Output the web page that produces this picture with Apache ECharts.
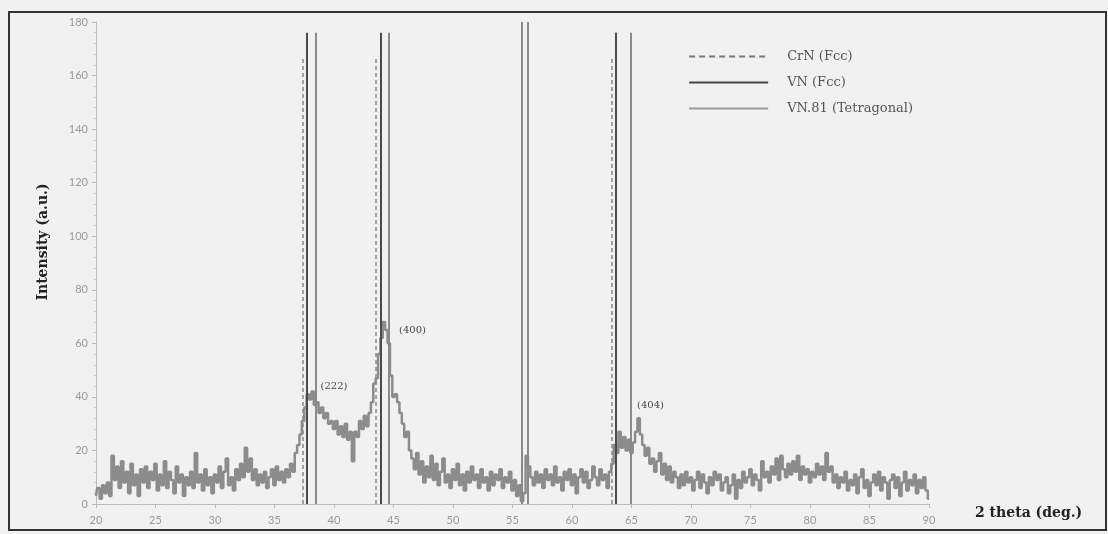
<!DOCTYPE html>
<html>
	<head>
		<meta charset="UTF-8">
		<title>XRD - CrN / VN</title>
		<script src="https://cdn.jsdelivr.net/npm/echarts@6/dist/echarts.min.js"></script>
		<style>
			html, body { margin: 0; padding: 0; background: #f1f1f1; }
			#main { width: 1108px; height: 534px; }
		</style>
	</head>
	<body>
		<div id="main"></div>
	</body>
<script>
    // scan grid: 2 theta from 20 to 90 deg, step 0.2
    var thetaStart = 20;
    var thetaStep = 0.2;
    // intensity (a.u.)
    var intensity = [
        3, 6, 2, 7, 4,   8, 3, 18, 9, 14,   6, 16, 8, 12, 4,   15, 7, 11, 3, 13,   8, 14, 6, 12, 9,
        15, 5, 11, 7, 16,   6, 12, 9, 4, 14,   8, 11, 3, 10, 7,   12, 6, 19, 8, 11,   5, 13, 7, 10, 4,
        11, 8, 14, 6, 12,   17, 7, 10, 5, 13,   9, 15, 10, 21, 12,   17, 9, 13, 7, 11,   8, 12, 6, 10, 13,
        7, 14, 9, 12, 8,   13, 10, 15, 12, 19,   22, 26, 31, 36, 41,   39, 42, 37, 38, 34,   36, 32, 34, 30, 31,
        28, 31, 26, 29, 25,   30, 24, 27, 16, 27,   25, 31, 28, 33, 29,   34, 38, 45, 47, 56,   62, 68, 65, 60, 48,
        40, 41, 38, 34, 30,   25, 27, 20, 17, 13,   19, 11, 16, 8, 14,   10, 18, 9, 15, 7,   12, 17, 8, 11, 6,
        13, 9, 15, 7, 11,   5, 12, 8, 14, 9,   11, 6, 13, 8, 10,   5, 12, 7, 11, 9,   13, 6, 10, 8, 12,
        5, 9, 3, 7, 1,   4, 18, 14, 10, 7,   12, 8, 11, 6, 13,   9, 11, 7, 14, 8,   10, 5, 12, 9, 13,
        7, 11, 4, 10, 13,   8, 12, 6, 9, 14,   10, 7, 13, 9, 11,   6, 12, 15, 22, 19,   27, 21, 25, 20, 24,
        19, 23, 27, 32, 26,   22, 18, 21, 15, 17,   12, 16, 19, 11, 15,   9, 14, 8, 12, 10,   6, 11, 7, 12, 8,
        10, 5, 9, 12, 6,   11, 8, 4, 10, 7,   12, 9, 11, 5, 8,   10, 4, 7, 11, 2,   9, 6, 12, 8, 10,
        13, 7, 11, 9, 5,   16, 10, 12, 8, 14,   11, 17, 9, 18, 13,   10, 15, 11, 16, 12,   18, 9, 14, 11, 13,
        8, 12, 10, 15, 11,   14, 9, 19, 12, 14,   8, 11, 6, 10, 8,   12, 5, 9, 7, 11,   4, 10, 13, 6, 9,
        3, 8, 11, 7, 12,   5, 10, 8, 2, 9,   11, 6, 10, 3, 8,   12, 5, 9, 7, 11,   4, 9, 6, 10, 5,
        2
    ];
    // reference peak positions (2 theta)
    var crnPeaks = [37.4, 43.5, 63.3];
    var vnPeaks = [37.7, 43.9, 63.7];
    var vn81Peaks = [38.5, 44.6, 64.9];
    var extraPeaks = [55.8, 56.3];
    // peak labels
    var peakLabels = ['(222)', '(400)', '(404)'];
    var peakLabelPos = [[40.0, 44], [46.6, 65], [66.6, 37]];

    var xTicks = [20, 90, 5];
    var yTicks = [0, 180, 20];

    var seriesData = intensity.map(function (v, i) {
        return [+(thetaStart + i * thetaStep).toFixed(1), v];
    });

    function vLines(list, top) {
        return list.map(function (p) {
            return [{ coord: [p, 0] }, { coord: [p, top] }];
        });
    }

    var serif = '"DejaVu Serif", "Liberation Serif", serif';

    var option = {
        backgroundColor: '#f1f1f1',
        animation: false,
        grid: { left: 96, right: 179, top: 22, bottom: 30 },
        legend: {
            right: 190,
            top: 45,
            orient: 'vertical',
            align: 'left',
            itemWidth: 79,
            itemHeight: 14,
            itemGap: 13,
            itemStyle: { opacity: 0 },
            textStyle: { fontFamily: serif, fontSize: 13, color: '#555', padding: [0, 0, 0, 14] },
            data: ['CrN (Fcc)', 'VN (Fcc)', 'VN.81 (Tetragonal)']
        },
        xAxis: {
            type: 'value',
            min: xTicks[0],
            max: xTicks[1],
            interval: xTicks[2],
            name: '2 theta (deg.)',
            nameLocation: 'end',
            nameGap: 46,
            nameTextStyle: { fontFamily: serif, fontSize: 14, fontWeight: 'bold', color: '#222', verticalAlign: 'top', padding: [2, 0, 0, 0] },
            axisLine: { lineStyle: { color: '#bbb', width: 1 } },
            axisTick: { show: true, length: 4, lineStyle: { color: '#bbb' } },
            minorTick: { show: true, splitNumber: 5, length: 2, lineStyle: { color: '#ccc' } },
            axisLabel: { color: '#999', fontSize: 11, fontFamily: 'Lato', margin: 11 },
            splitLine: { show: false }
        },
        yAxis: {
            type: 'value',
            min: yTicks[0],
            max: yTicks[1],
            interval: yTicks[2],
            axisLine: { show: true, lineStyle: { color: '#bbb', width: 1 } },
            axisTick: { show: true, length: 4, lineStyle: { color: '#bbb' } },
            minorTick: { show: true, splitNumber: 5, length: 2, lineStyle: { color: '#ccc' } },
            axisLabel: { color: '#999', fontSize: 11, fontFamily: 'Lato', margin: 8 },
            splitLine: { show: false }
        },
        graphic: [
            {
                type: 'rect',
                shape: { x: 9, y: 12, width: 1097, height: 518 },
                style: { fill: 'none', stroke: '#333', lineWidth: 2 },
                silent: true
            },
            {
                type: 'text',
                x: 43,
                y: 242,
                rotation: Math.PI / 2,
                style: {
                    text: 'Intensity (a.u.)',
                    font: 'bold 14px ' + serif,
                    fill: '#222',
                    align: 'center',
                    verticalAlign: 'middle'
                }
            }
        ],
        series: [
            {
                name: 'Intensity',
                type: 'line',
                step: 'middle',
                symbol: 'none',
                data: seriesData,
                lineStyle: { color: '#8c8c8c', width: 2.5 },
                z: 3,
                markPoint: {
                    symbol: 'circle',
                    symbolSize: 0,
                    label: { show: true, fontFamily: serif, fontSize: 10, color: '#444', formatter: function (p) { return p.name; } },
                    data: peakLabels.map(function (t, i) {
                        return { name: t, coord: peakLabelPos[i] };
                    })
                }
            },
            {
                name: 'CrN (Fcc)',
                type: 'line',
                data: [],
                symbol: 'none',
                lineStyle: { color: '#777', width: 1.5, type: [6, 4] },
                itemStyle: { color: '#777' },
                markLine: {
                    silent: true,
                    symbol: 'none',
                    label: { show: false },
                    lineStyle: { color: '#888', width: 1.5, type: [4, 3] },
                    data: vLines(crnPeaks, 167)
                }
            },
            {
                name: 'VN (Fcc)',
                type: 'line',
                data: [],
                symbol: 'none',
                lineStyle: { color: '#444', width: 2 },
                itemStyle: { color: '#444' },
                markLine: {
                    silent: true,
                    symbol: 'none',
                    label: { show: false },
                    lineStyle: { color: '#4a4a4a', width: 2, type: 'solid' },
                    data: vLines(vnPeaks, 176)
                }
            },
            {
                name: 'VN.81 (Tetragonal)',
                type: 'line',
                data: [],
                symbol: 'none',
                lineStyle: { color: '#999', width: 2 },
                itemStyle: { color: '#999' },
                markLine: {
                    silent: true,
                    symbol: 'none',
                    label: { show: false },
                    lineStyle: { color: '#8a8a8a', width: 2, type: 'solid' },
                    data: vLines(vn81Peaks, 176).concat(vLines(extraPeaks, 180))
                }
            }
        ]
    };

    var myChart = echarts.init(document.getElementById('main'));
    myChart.setOption(option);
</script>
</html>
